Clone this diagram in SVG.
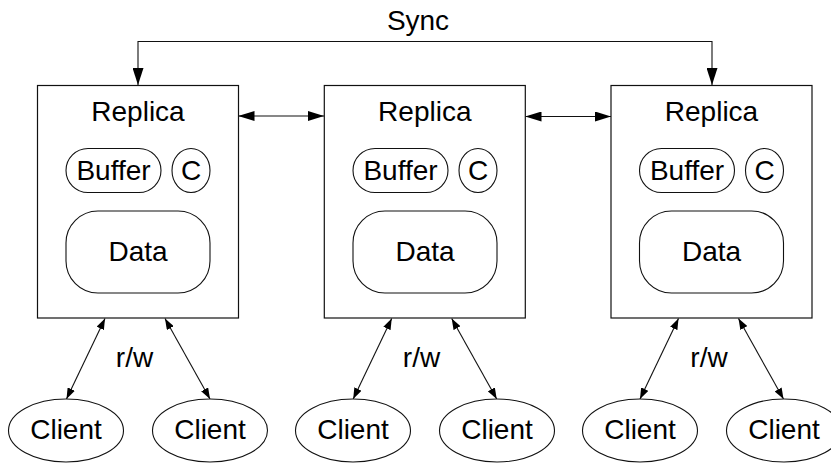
<svg xmlns="http://www.w3.org/2000/svg" width="831" height="464" viewBox="0 0 831 464">
  <defs>
    <style>
      .box { fill: #ffffff; stroke: #111111; stroke-width: 1.2; }
      .shape { fill: #ffffff; stroke: #111111; stroke-width: 1.1; }
      .lbl { font-family: "Liberation Sans", Arial, sans-serif; font-size: 28px; fill: #000000; text-anchor: middle; }
      .link { fill: none; stroke: #111111; stroke-width: 1.1; }
      .big { marker-start: url(#headBig); marker-end: url(#headBig); }
      .small { marker-start: url(#headSmall); marker-end: url(#headSmall); }
    </style>
    <marker id="headBig" viewBox="0 0 16 10" refX="16" refY="5" markerWidth="16" markerHeight="10" markerUnits="userSpaceOnUse" orient="auto-start-reverse">
      <path d="M0,0 L16,5 L0,10 z" fill="#000000"/>
    </marker>
    <marker id="headTip" viewBox="0 0 11 17" refX="5.5" refY="17" markerWidth="11" markerHeight="17" markerUnits="userSpaceOnUse" orient="0">
      <path d="M0,0 L11,0 L5.5,17 z" fill="#000000"/>
    </marker>
    <marker id="headSmall" viewBox="0 0 11 8" refX="11" refY="4" markerWidth="11" markerHeight="8" markerUnits="userSpaceOnUse" orient="auto-start-reverse">
      <path d="M0,0 L11,4 L0,8 z" fill="#000000"/>
    </marker>
  </defs>

  <rect width="831" height="464" fill="#ffffff"/>

  <!-- connectors -->
  <g id="connectors">
    <path class="link" d="M138,85 L138,41.5 L712,41.5 L712,85" marker-start="url(#headTip)" marker-end="url(#headTip)"/>
    <text class="lbl" x="418" y="30">Sync</text>

    <line class="link big" x1="238.5" y1="116" x2="324" y2="116"/>
    <line class="link big" x1="525.5" y1="116.5" x2="611" y2="116.5"/>

    <line class="link small" x1="105" y1="318.5" x2="66.5" y2="399"/>
    <line class="link small" x1="165" y1="318.5" x2="210" y2="399"/>
    <text class="lbl" x="134.5" y="367">r/w</text>

    <line class="link small" x1="391.7" y1="318.5" x2="353.2" y2="399"/>
    <line class="link small" x1="451.7" y1="318.5" x2="496.7" y2="399"/>
    <text class="lbl" x="421.5" y="367">r/w</text>

    <line class="link small" x1="678.5" y1="318.5" x2="640" y2="399"/>
    <line class="link small" x1="738.5" y1="318.5" x2="783.5" y2="399"/>
    <text class="lbl" x="709" y="367">r/w</text>
  </g>

  <!-- replica 1 -->
  <g id="replica-1">
    <rect class="box" x="37.5" y="85.5" width="201" height="232.5"/>
    <text class="lbl" x="138" y="121">Replica</text>
    <g id="buffer-1">
      <rect class="shape" x="66" y="148.5" width="95" height="44" rx="22" ry="22"/>
      <text class="lbl" x="113.5" y="179.5">Buffer</text>
    </g>
    <g id="c-1">
      <ellipse class="shape" cx="191" cy="170.5" rx="19" ry="22"/>
      <text class="lbl" x="191" y="179.5">C</text>
    </g>
    <g id="data-1">
      <rect class="shape" x="66" y="211" width="144" height="82" rx="32" ry="32"/>
      <text class="lbl" x="138" y="261">Data</text>
    </g>
  </g>

  <!-- replica 2 -->
  <g id="replica-2">
    <rect class="box" x="324.3" y="85.5" width="201" height="232.5"/>
    <text class="lbl" x="424.8" y="121">Replica</text>
    <g id="buffer-2">
      <rect class="shape" x="353" y="148.5" width="95" height="44" rx="22" ry="22"/>
      <text class="lbl" x="400.5" y="179.5">Buffer</text>
    </g>
    <g id="c-2">
      <ellipse class="shape" cx="478" cy="170.5" rx="19" ry="22"/>
      <text class="lbl" x="478" y="179.5">C</text>
    </g>
    <g id="data-2">
      <rect class="shape" x="353" y="211" width="144" height="82" rx="32" ry="32"/>
      <text class="lbl" x="425" y="261">Data</text>
    </g>
  </g>

  <!-- replica 3 -->
  <g id="replica-3">
    <rect class="box" x="611" y="85.5" width="201" height="232.5"/>
    <text class="lbl" x="711.5" y="121">Replica</text>
    <g id="buffer-3">
      <rect class="shape" x="639.5" y="148.5" width="95" height="44" rx="22" ry="22"/>
      <text class="lbl" x="687" y="179.5">Buffer</text>
    </g>
    <g id="c-3">
      <ellipse class="shape" cx="764.5" cy="170.5" rx="19" ry="22"/>
      <text class="lbl" x="764.5" y="179.5">C</text>
    </g>
    <g id="data-3">
      <rect class="shape" x="639.5" y="211" width="144" height="82" rx="32" ry="32"/>
      <text class="lbl" x="711.5" y="261">Data</text>
    </g>
  </g>

  <!-- clients -->
  <g id="client-1a">
    <ellipse class="shape" cx="66" cy="430.5" rx="57.5" ry="31.5"/>
    <text class="lbl" x="66" y="439">Client</text>
  </g>
  <g id="client-1b">
    <ellipse class="shape" cx="210" cy="430.5" rx="57.5" ry="31.5"/>
    <text class="lbl" x="210" y="439">Client</text>
  </g>
  <g id="client-2a">
    <ellipse class="shape" cx="353" cy="430.5" rx="57.5" ry="31.5"/>
    <text class="lbl" x="353" y="439">Client</text>
  </g>
  <g id="client-2b">
    <ellipse class="shape" cx="497" cy="430.5" rx="57.5" ry="31.5"/>
    <text class="lbl" x="497" y="439">Client</text>
  </g>
  <g id="client-3a">
    <ellipse class="shape" cx="640" cy="430.5" rx="57.5" ry="31.5"/>
    <text class="lbl" x="640" y="439">Client</text>
  </g>
  <g id="client-3b">
    <ellipse class="shape" cx="784" cy="430.5" rx="57.5" ry="31.5"/>
    <text class="lbl" x="784" y="439">Client</text>
  </g>
</svg>
